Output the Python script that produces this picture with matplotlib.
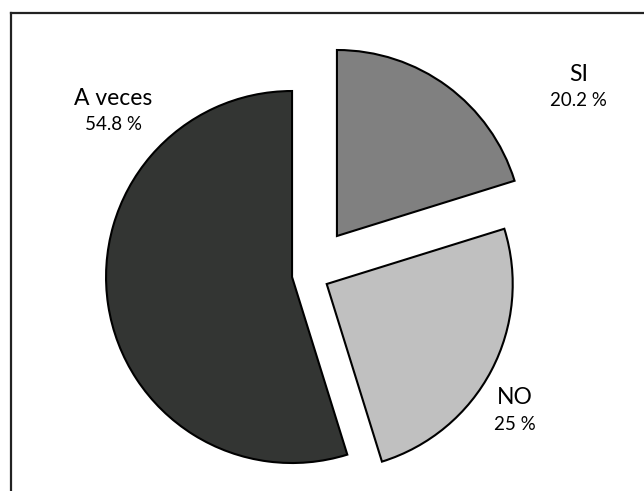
import numpy as np
import matplotlib.pyplot as plt
from matplotlib.lines import Line2D

categories = ["SI", "NO", "A veces"]
values = [20.2, 25, 54.8]
pct_labels = ["20.2 %", "25 %", "54.8 %"]
colors = ["#808080", "#c0c0c0", "#333533"]
explode = [0.257, 0.11, 0.09]

# label anchor points (in pie radius units)
label_pos = [(1.45, 1.00), (1.11, -0.74), (-1.05, 0.87)]

plt.rcParams['font.family'] = ['Lato', 'DejaVu Sans']

fig = plt.figure(figsize=(6.44, 4.91), dpi=100)
ax = fig.add_axes([0, 0, 1, 1])

wedges, _ = ax.pie(values, colors=colors, explode=explode, startangle=90,
                   counterclock=False, radius=1.0,
                   wedgeprops=dict(edgecolor="black", linewidth=1.5))

r_px = 186.0
cx, cy = 308.6, 274.5
ax.set_xlim(-cx / r_px, (644 - cx) / r_px)
ax.set_ylim(-(491 - cy) / r_px, cy / r_px)
ax.set_aspect("equal")
ax.axis("off")

for name, pct, (x, y) in zip(categories, pct_labels, label_pos):
    ax.text(x, y + 0.02, name, ha="center", va="bottom", fontsize=16.5, color="black")
    ax.text(x, y - 0.02, pct, ha="center", va="top", fontsize=13.5, color="black")

# frame (only left and top edges fall inside the image)
fig.add_artist(Line2D([10.5 / 644, 10.5 / 644], [0, 1 - 12.5 / 491],
                      transform=fig.transFigure, color="#222222", linewidth=1.6))
fig.add_artist(Line2D([10.5 / 644, 1], [1 - 12.5 / 491, 1 - 12.5 / 491],
                      transform=fig.transFigure, color="#222222", linewidth=1.6))

fig.savefig("out.png", dpi=100)
